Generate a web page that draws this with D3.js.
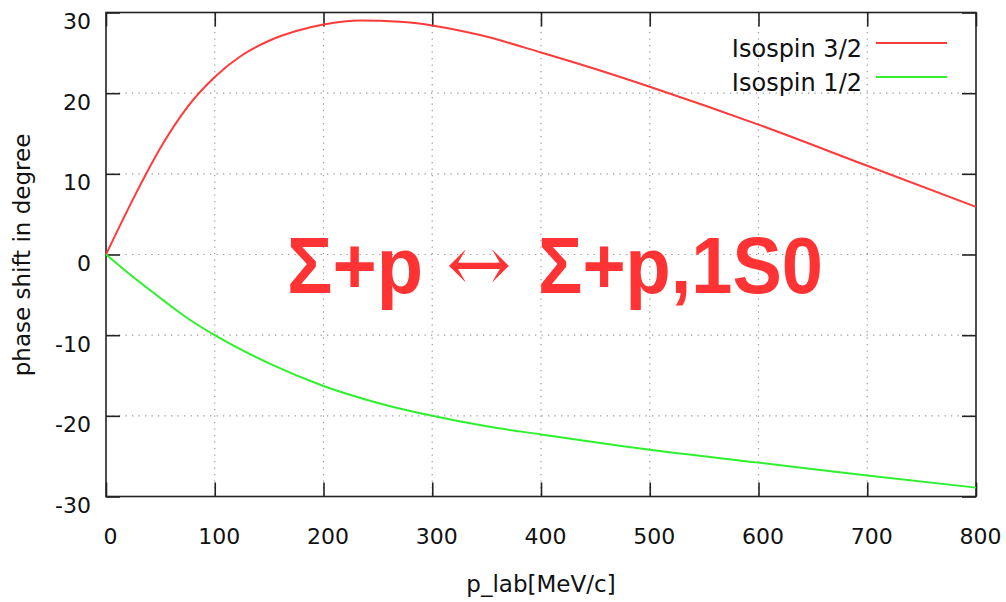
<!DOCTYPE html>
<html>
<head>
<meta charset="utf-8">
<script src="https://cdn.jsdelivr.net/npm/d3@7"></script>
<style>
  html, body { margin: 0; padding: 0; background: #fff; }
  svg { display: block; }
</style>
</head>
<body>
<svg id="chart" width="1006" height="602"></svg>
<script>
// ---- data ----
const xTicks = [0, 100, 200, 300, 400, 500, 600, 700, 800];
const yTicks = [-30, -20, -10, 0, 10, 20, 30];
const seriesNames = ["Isospin 3/2", "Isospin 1/2"];
const isospin32_p = [0, 25, 50, 75, 100, 125, 150, 175, 200, 234, 270, 300, 344, 400, 450, 500, 600, 700, 800];
const isospin32_v = [0, 6.9, 13.2, 18.3, 22.0, 24.7, 26.5, 27.7, 28.5, 29.0, 28.85, 28.4, 27.2, 25.05, 23.0, 20.8, 16.1, 11.0, 5.9];
const isospin12_p = [0, 25, 52, 75, 100, 150, 200, 250, 300, 350, 400, 500, 600, 700, 800];
const isospin12_v = [0, -2.8, -5.6, -7.9, -10.0, -13.5, -16.3, -18.4, -20.0, -21.3, -22.3, -24.2, -25.8, -27.4, -28.9];
const titleLeft = "Σ+p";
const titleArrow = "↔";
const titleRight = "Σ+p,1S0";
const xLabel = "p_lab[MeV/c]";
const yLabel = "phase shift in degree";

const colors = ["#ff3a3a", "#2ef02e"];

const svg = d3.select("#chart");
const x = d3.scaleLinear().domain([0, 800]).range([106, 976]);
const y = d3.scaleLinear().domain([-30, 30]).range([496.5, 12.5]);

const font = "'DejaVu Sans', Verdana, sans-serif";
const fmt = d => String(d);

// grid
const grid = svg.append("g").attr("stroke", "#9a9a9a").attr("stroke-width", 1.2)
  .attr("stroke-dasharray", "1.3,5.2");
grid.selectAll(".gx").data(xTicks.slice(1, -1)).join("line")
  .attr("x1", d => x(d)).attr("x2", d => x(d))
  .attr("y1", y(30)).attr("y2", y(-30));
grid.selectAll(".gy").data(yTicks.slice(1, -1)).join("line")
  .attr("x1", x(0)).attr("x2", x(800))
  .attr("y1", d => y(d)).attr("y2", d => y(d));

// axes
const tickLen = 14;
function styleAxis(g) {
  g.select(".domain").remove();
  g.selectAll(".tick line").attr("stroke", "#222").attr("stroke-width", 1.6);
  g.selectAll("text").attr("fill", "#111").style("font-family", font).style("font-size", "22px");
}
svg.append("g").attr("transform", `translate(0,${y(-30)})`)
  .call(d3.axisBottom(x).tickValues(xTicks).tickSize(-tickLen).tickPadding(32).tickFormat(fmt))
  .call(styleAxis)
  .call(g => g.selectAll("text").attr("dx", 4));
svg.append("g").attr("transform", `translate(0,${y(30)})`)
  .call(d3.axisTop(x).tickValues(xTicks).tickSize(-tickLen).tickFormat(""))
  .call(styleAxis);
svg.append("g").attr("transform", `translate(${x(0)},0)`)
  .call(d3.axisLeft(y).tickValues(yTicks).tickSize(-tickLen).tickPadding(15).tickFormat(fmt))
  .call(styleAxis)
  .call(g => g.selectAll("text").attr("dy", "0.72em"));
svg.append("g").attr("transform", `translate(${x(800)},0)`)
  .call(d3.axisRight(y).tickValues(yTicks).tickSize(-tickLen).tickFormat(""))
  .call(styleAxis);

// frame
svg.append("rect").attr("x", x(0)).attr("y", y(30))
  .attr("width", x(800) - x(0)).attr("height", y(-30) - y(30))
  .attr("fill", "none").attr("stroke", "#222").attr("stroke-width", 1.6);

// lines
const line = d3.line().x(d => x(d[0])).y(d => y(d[1])).curve(d3.curveMonotoneX);
const s32 = isospin32_p.map((p, i) => [p, isospin32_v[i]]);
const s12 = isospin12_p.map((p, i) => [p, isospin12_v[i]]);
[s32, s12].forEach((s, i) => {
  svg.append("path").datum(s).attr("d", line)
    .attr("fill", "none").attr("stroke", colors[i]).attr("stroke-width", 2);
});

// legend
const legY = [57, 90.5];
const legLineY = [43, 77];
seriesNames.forEach((n, i) => {
  svg.append("text").attr("x", 862).attr("y", legY[i]).attr("text-anchor", "end")
    .style("font-family", font).style("font-size", "24px").attr("fill", "#111").text(n);
  svg.append("line").attr("x1", 876).attr("x2", 947).attr("y1", legLineY[i]).attr("y2", legLineY[i])
    .attr("stroke", colors[i]).attr("stroke-width", 2);
});

// axis labels
svg.append("text").attr("x", 541).attr("y", 592).attr("text-anchor", "middle")
  .style("font-family", font).style("font-size", "23px").attr("fill", "#111").text(xLabel);
svg.append("text").attr("transform", "translate(30,255) rotate(-90)").attr("text-anchor", "middle")
  .style("font-family", font).style("font-size", "23px").attr("fill", "#111").text(yLabel);

// title annotation
const tfont = "'Liberation Sans', Arial, sans-serif";
const titleColor = "#ff3333";
svg.append("text").attr("x", 287).attr("y", 293)
  .style("font-family", tfont).style("font-weight", "bold").style("font-size", "80px")
  .attr("fill", titleColor).attr("textLength", 136).attr("lengthAdjust", "spacingAndGlyphs").text(titleLeft);
svg.append("text").attr("x", 479).attr("y", 291).attr("text-anchor", "middle")
  .style("font-family", "'DejaVu Serif', serif").style("font-size", "78px")
  .attr("fill", titleColor).text(titleArrow);
svg.append("text").attr("x", 538).attr("y", 293)
  .style("font-family", tfont).style("font-weight", "bold").style("font-size", "80px")
  .attr("fill", titleColor).attr("textLength", 285).attr("lengthAdjust", "spacingAndGlyphs").text(titleRight);
</script>
</body>
</html>
